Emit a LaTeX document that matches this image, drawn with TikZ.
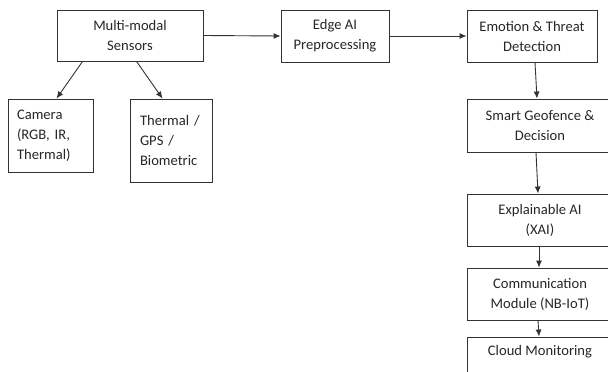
\documentclass[tikz,border=0pt]{standalone}
\usepackage{fontspec}
\setmainfont{Carlito}
\usetikzlibrary{arrows.meta}

\begin{document}
\begin{tikzpicture}[x=1pt,y=-1pt,
    blk/.style={draw=black!80,line width=0.9pt,text=black!85,inner sep=0pt,
      font=\fontsize{14.6}{20}\selectfont,align=center},
    lft/.style={align=left},
    arr/.style={black!80,line width=0.9pt,-{Latex[length=7pt,width=6pt]}}]
    \useasboundingbox (0,0) rectangle (608,372);
    % top row
    \node[blk,minimum width=146pt,minimum height=51pt] (sensors) at (130,35.5) {Multi-modal\\Sensors};
    \node[blk,minimum width=108pt,minimum height=52pt] (edge) at (335,36) {Edge AI\\Preprocessing};
    \node[blk,minimum width=130pt,minimum height=52pt] (emotion) at (532,36) {Emotion \& Threat\\Detection};
    % sensor types
    \node[blk,lft,minimum width=85pt,minimum height=73pt,text width=67pt] (camera) at (50.5,135.5) {Camera\\(RGB, IR,\\Thermal)};
    \node[blk,lft,minimum width=82pt,minimum height=83pt,text width=62pt] (thermal) at (171,140.5) {Thermal /\\GPS /\\Biometric\\[7pt]};
    % right column
    \node[blk,minimum width=146pt,minimum height=53pt] (geofence) at (540,125.5) {Smart Geofence \&\\Decision};
    \node[blk,minimum width=146pt,minimum height=52pt] (xai) at (540,220) {Explainable AI\\(XAI)};
    \node[blk,minimum width=146pt,minimum height=52pt] (comm) at (540,294) {Communication\\Module (NB-IoT)};
    \node[blk,minimum width=146pt,minimum height=52pt] (cloud) at (540,363) {Cloud Monitoring\\\strut};
    % connectors
    \draw[arr] (sensors.east) -- (edge.west);
    \draw[arr] (edge.east) -- (emotion.west);
    \draw[arr] ([xshift=26pt]sensors.south west) -- ([xshift=49pt]camera.north west);
    \draw[arr] ([xshift=80pt]sensors.south west) -- ([xshift=33pt]thermal.north west);
    \draw[arr] ([xshift=3pt]emotion.south) -- ([xshift=-3pt]geofence.north);
    \draw[arr] ([xshift=-4pt]geofence.south) -- ([xshift=-2pt]xai.north);
    \draw[arr] ([xshift=-1pt]xai.south) -- ([xshift=-1pt]comm.north);
    \draw[arr] ([xshift=-2pt]comm.south) -- ([xshift=-1pt]cloud.north);
\end{tikzpicture}
\end{document}
